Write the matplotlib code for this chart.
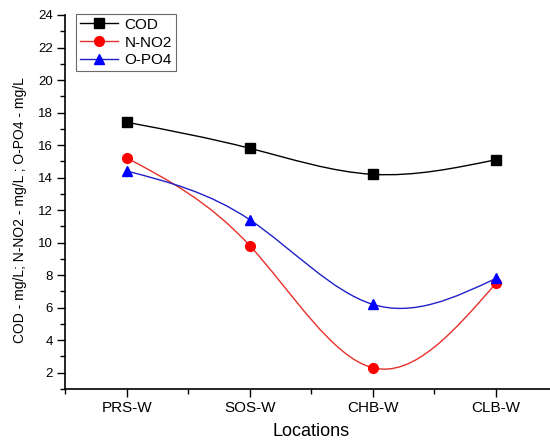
import numpy as np
import matplotlib
matplotlib.use("Agg")
import matplotlib.pyplot as plt
from matplotlib.path import Path
from matplotlib.patches import PathPatch
from matplotlib.lines import Line2D
from matplotlib.ticker import MultipleLocator

plt.rcParams['font.family'] = ['Liberation Sans', 'DejaVu Sans']

locations = ["PRS-W", "SOS-W", "CHB-W", "CLB-W"]
cod = [17.4, 15.8, 14.2, 15.1]
n_no2 = [15.2, 9.8, 2.3, 7.5]
o_po4 = [14.4, 11.4, 6.2, 7.8]

series = [
    ("COD", cod, "black", "black", "s"),
    ("N-NO2", n_no2, "#e8302a", "red", "o"),
    ("O-PO4", o_po4, "#2020c8", "blue", "^"),
]


def spline_path(x, y):
    """Natural cubic spline through the points, expressed as Bezier segments."""
    x = np.asarray(x, float)
    y = np.asarray(y, float)
    n = len(x)
    h = np.diff(x)
    A = np.zeros((n, n))
    b = np.zeros(n)
    A[0, 0] = 1
    A[-1, -1] = 1
    for i in range(1, n - 1):
        A[i, i - 1] = h[i - 1]
        A[i, i] = 2 * (h[i - 1] + h[i])
        A[i, i + 1] = h[i]
        b[i] = 6 * ((y[i + 1] - y[i]) / h[i] - (y[i] - y[i - 1]) / h[i - 1])
    M = np.linalg.solve(A, b)
    m = np.zeros(n)
    for i in range(n - 1):
        m[i] = (y[i + 1] - y[i]) / h[i] - h[i] * (2 * M[i] + M[i + 1]) / 6
    m[-1] = (y[-1] - y[-2]) / h[-1] + h[-1] * (M[-2] + 2 * M[-1]) / 6
    verts = [(x[0], y[0])]
    codes = [Path.MOVETO]
    for i in range(n - 1):
        verts += [(x[i] + h[i] / 3, y[i] + h[i] * m[i] / 3),
                  (x[i + 1] - h[i] / 3, y[i + 1] - h[i] * m[i + 1] / 3),
                  (x[i + 1], y[i + 1])]
        codes += [Path.CURVE4] * 3
    return Path(verts, codes)


fig = plt.figure(figsize=(5.5, 4.41), dpi=100)
ax = fig.add_axes([0.119, 0.118, 0.8945, 0.848])

xs = np.arange(len(locations))
handles = []
for name, vals, lc, mc, mk in series:
    patch = PathPatch(spline_path(xs, vals), facecolor="none", edgecolor=lc, lw=1.0, zorder=2)
    ax.add_patch(patch)
    ax.plot(xs, vals, ls="none", marker=mk, color=mc, markersize=7, zorder=3)
    handles.append(Line2D([], [], color=lc, lw=1.0, marker=mk, markerfacecolor=mc,
                          markeredgecolor=mc, markersize=7, label=name))

ax.set_xlim(-0.5, 3.5)
ax.set_ylim(1, 24)
ax.set_xticks(xs)
ax.set_xticklabels(locations, fontsize=11)
ax.xaxis.set_minor_locator(MultipleLocator(0.5))
ax.set_yticks(np.arange(2, 25, 2))
ax.yaxis.set_minor_locator(MultipleLocator(1))
ax.tick_params(axis="y", labelsize=9.5, pad=3)
ax.tick_params(which="major", length=6, width=1, direction="out")
ax.tick_params(which="minor", length=3.5, width=1, direction="out")
ax.tick_params(axis="x", pad=3)

for s in ["top", "right"]:
    ax.spines[s].set_visible(False)
for s in ["left", "bottom"]:
    ax.spines[s].set_linewidth(1.2)

ax.set_xlabel("Locations", fontsize=13)
ax.xaxis.set_label_coords(0.5, -0.115)
ax.xaxis.label.set_va("center")
ax.set_ylabel("COD - mg/L; N-NO2 - mg/L ; O-PO4 - mg/L", fontsize=10)
ax.yaxis.set_label_coords(-0.0925, 0.479)
ax.yaxis.label.set_va("center")

leg = ax.legend(handles=handles, loc="upper left", bbox_to_anchor=(0.022, 1.003),
                fontsize=11, frameon=True, fancybox=False, edgecolor="#444444",
                handlelength=2.5, borderpad=0.25, labelspacing=0.25, handletextpad=0.4,
                borderaxespad=0)
leg.get_frame().set_linewidth(0.8)

fig.savefig("out.png", dpi=100)
